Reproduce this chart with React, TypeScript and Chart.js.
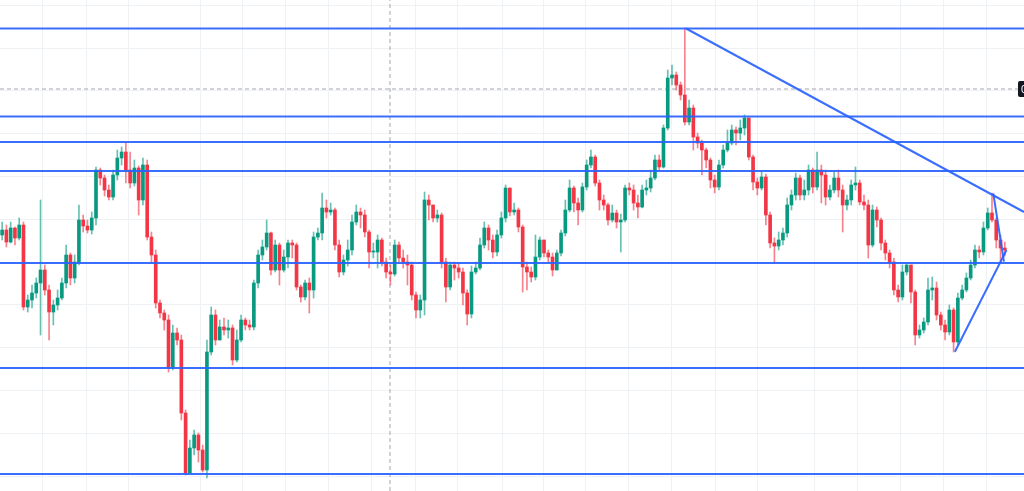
import { useEffect, useRef } from 'react';
import { Chart, registerables } from 'chart.js';

Chart.register(...registerables);

// ---- Data (price units) ----
const firstOpen = 365;

const closes = [
  370, 358, 372, 362, 375, 293, 300, 307, 317, 330,
  310, 288, 295, 302, 317, 345, 322, 338, 380, 374,
  370, 382, 430, 422, 410, 403, 425, 442, 448, 430,
  417, 432, 400, 435, 363, 345, 297, 287, 280, 233,
  267, 260, 187, 127, 152, 165, 150, 130, 248, 285,
  260, 273, 270, 272, 240, 260, 280, 275, 273, 317,
  345, 353, 367, 330, 355, 330, 343, 357, 355, 313,
  303, 317, 310, 363, 367, 392, 388, 390, 355, 328,
  340, 350, 378, 388, 385, 368, 348, 348, 360, 338,
  328, 326, 355, 342, 338, 335, 305, 290, 300, 400,
  395, 382, 385, 338, 313, 335, 332, 328, 307, 286,
  328, 332, 355, 372, 360, 348, 365, 382, 412, 388,
  390, 373, 333, 328, 323, 343, 360, 347, 343, 330,
  347, 367, 390, 412, 397, 390, 413, 435, 443, 417,
  400, 395, 380, 387, 378, 380, 412, 410, 397, 393,
  410, 412, 422, 440, 433, 472, 522, 525, 515, 505,
  478, 492, 463, 457, 450, 440, 420, 413, 435, 450,
  457, 470, 467, 472, 482, 443, 418, 412, 423, 385,
  357, 354, 360, 367, 395, 405, 422, 405, 410, 430,
  413, 430, 425, 403, 410, 422, 410, 395, 400, 415,
  417, 398, 395, 355, 390, 380, 357, 347, 338, 310,
  303, 328, 335, 308, 265, 270, 278, 310, 312, 285,
  275, 268, 290, 258, 302, 310, 322, 335, 350, 348,
  372, 387, 380, 360, 352, 350,
];

const highs = [
  378, 375, 378, 373, 382, 378, 305, 315, 322, 400,
  335, 315, 300, 310, 322, 355, 347, 345, 395, 385,
  380, 388, 433, 432, 425, 415, 430, 450, 453, 457,
  448, 440, 434, 442, 440, 368, 350, 300, 290, 285,
  275, 272, 265, 190, 160, 170, 167, 155, 260, 293,
  290, 280, 282, 280, 275, 270, 285, 282, 280, 320,
  350, 360, 380, 368, 360, 357, 350, 360, 360, 357,
  315, 320, 322, 368, 372, 407, 400, 397, 392, 360,
  345, 360, 385, 395, 392, 390, 370, 357, 365, 362,
  342, 335, 360, 358, 350, 345, 338, 308, 305, 408,
  405, 395, 390, 387, 342, 338, 338, 337, 332, 310,
  334, 338, 362, 378, 375, 365, 370, 388, 415, 412,
  397, 392, 375, 338, 333, 365, 363, 360, 350, 347,
  350, 370, 400, 420, 414, 402, 417, 440, 450, 445,
  420, 405, 397, 395, 390, 386, 415, 417, 415, 405,
  415, 420, 430, 445, 445, 475, 530, 535, 528, 518,
  572, 500, 495, 467, 460, 452, 442, 425, 440, 455,
  470, 475, 473, 480, 485, 480, 445, 422, 428, 426,
  388, 362, 368, 372, 402, 410, 427, 425, 420, 435,
  432, 448, 435, 430, 415, 428, 430, 415, 405, 420,
  433, 420, 405, 400, 395, 393, 382, 360, 350, 342,
  315, 335, 337, 335, 310, 275, 282, 322, 323, 318,
  288, 280, 295, 292, 307, 315, 327, 340, 355, 354,
  378, 392, 407, 382, 365, 358,
];

const lows = [
  360, 353, 357, 355, 360, 290, 288, 292, 302, 265,
  305, 260, 275, 290, 300, 312, 315, 317, 335, 368,
  367, 366, 375, 415, 404, 400, 400, 420, 435, 417,
  412, 414, 385, 395, 360, 338, 292, 282, 270, 228,
  230, 255, 180, 125, 127, 145, 138, 128, 122, 245,
  255, 260, 265, 262, 235, 238, 258, 270, 270, 270,
  312, 340, 350, 325, 328, 315, 328, 332, 342, 310,
  298, 300, 287, 302, 360, 360, 382, 385, 350, 323,
  325, 334, 345, 375, 372, 363, 332, 342, 332, 334,
  322, 315, 324, 338, 332, 315, 300, 282, 282, 285,
  380, 378, 378, 332, 298, 310, 320, 322, 295, 275,
  282, 326, 330, 352, 350, 342, 344, 362, 378, 384,
  385, 368, 308, 310, 318, 320, 340, 343, 338, 324,
  330, 344, 364, 388, 388, 375, 388, 410, 432, 414,
  390, 390, 375, 378, 372, 348, 378, 405, 390, 382,
  392, 405, 408, 420, 430, 432, 470, 515, 510, 500,
  475, 475, 450, 452, 425, 432, 412, 407, 410, 432,
  448, 455, 455, 460, 465, 440, 410, 405, 410, 375,
  352, 337, 350, 355, 363, 390, 400, 400, 400, 405,
  407, 410, 397, 395, 400, 407, 403, 368, 390, 395,
  410, 395, 390, 342, 353, 373, 350, 340, 332, 305,
  298, 300, 325, 297, 255, 262, 267, 275, 300, 280,
  270, 260, 265, 248, 255, 300, 308, 320, 332, 342,
  345, 370, 378, 352, 338, 344,
];

// Horizontal support / resistance levels
const levelPrices = [571.5, 483.5, 458, 429, 337, 232, 126];
// Last price (dashed) and session marker
const lastPriceLevel = 511;
const sessionMarkX = 91.4;
// Trend lines: [x1, y1, x2, y2]
const trendLines = [
  [160.8, 571.5, 240, 388],
  [232.8, 406.7, 235.3, 338.3],
  [223.8, 248.3, 235.9, 350],
];
// Grid positions
const timeGridX = [10, 20.2, 30.1, 46.9, 56.9, 67, 76.9, 87.1, 97.3, 107.2, 117.7, 127.3, 137.3, 147.3, 157.4, 167.6, 177.5, 191, 200.9, 211.1, 221.1, 231.3];
const priceGridY = [594.8, 552, 509.2, 466.4, 423.6, 380.8, 338, 295.2, 252.4, 209.6, 166.8, 124];

const X_MIN = 0;
const X_MAX = 240;
const Y_MIN = 109;
const Y_MAX = 600;

const UP = '#089981';
const DOWN = '#f23645';
const UP_WICK = 'rgba(8,153,129,0.62)';
const DOWN_WICK = 'rgba(242,54,69,0.62)';
const BLUE = 'rgba(41,98,255,0.92)';
const GRID = '#eff2f5';

export default function App() {
  const ref = useRef<HTMLCanvasElement>(null);

  useEffect(() => {
    if (!ref.current) return;
    const opens = closes.map((c, i) => (i === 0 ? firstOpen : closes[i - 1]));
    const isUp = closes.map((c, i) => c >= opens[i]);
    const bodies = closes.map((c, i) => ({ x: i + 0.5, y: [opens[i], c] }));
    const wicks = closes.map((c, i) => ({
      x: i + 0.5,
      y: [Math.min(lows[i], opens[i], c), Math.max(highs[i], opens[i], c)],
    }));

    const lineDatasets: any[] = [];
    levelPrices.forEach((p) => {
      lineDatasets.push({
        type: 'line',
        data: [{ x: X_MIN, y: p }, { x: X_MAX, y: p }],
        borderColor: BLUE,
        borderWidth: 2,
        pointRadius: 0,
        fill: false,
        order: 0,
      });
    });
    trendLines.forEach(([x1, y1, x2, y2]) => {
      lineDatasets.push({
        type: 'line',
        data: [{ x: x1, y: y1 }, { x: x2, y: y2 }],
        borderColor: BLUE,
        borderWidth: 2,
        pointRadius: 0,
        fill: false,
        order: 0,
      });
    });
    lineDatasets.push({
      type: 'line',
      data: [{ x: X_MIN, y: lastPriceLevel }, { x: X_MAX, y: lastPriceLevel }],
      borderColor: '#a3a6ae',
      borderWidth: 1,
      borderDash: [4, 3],
      pointRadius: 0,
      fill: false,
      order: 5,
    });
    lineDatasets.push({
      type: 'line',
      data: [{ x: sessionMarkX, y: Y_MIN }, { x: sessionMarkX, y: Y_MAX }],
      borderColor: '#a3a6ae',
      borderWidth: 1,
      borderDash: [4, 3],
      pointRadius: 0,
      fill: false,
      order: 5,
    });

    const priceLabel = {
      id: 'priceLabel',
      afterDraw(chart: any) {
        const { ctx, scales } = chart;
        const y = scales.y.getPixelForValue(lastPriceLevel);
        const right = chart.chartArea.right;
        ctx.save();
        ctx.fillStyle = '#131722';
        ctx.beginPath();
        ctx.roundRect(right - 6, y - 8, 14, 16, 2);
        ctx.fill();
        ctx.fillStyle = '#ffffff';
        ctx.font = '11px "Liberation Sans", Arial, sans-serif';
        ctx.textBaseline = 'middle';
        ctx.textAlign = 'left';
        ctx.fillText('0', right - 3, y + 0.5);
        ctx.restore();
      },
    };

    const chart = new Chart(ref.current, {
      type: 'bar',
      data: {
        datasets: [
          ...lineDatasets,
          {
            type: 'bar',
            data: bodies as any,
            backgroundColor: isUp.map((u) => (u ? UP : DOWN)),
            barThickness: 3,
            minBarLength: 1,
            grouped: false,
            order: 2,
          } as any,
          {
            type: 'bar',
            data: wicks as any,
            backgroundColor: isUp.map((u) => (u ? UP_WICK : DOWN_WICK)),
            barThickness: 1,
            grouped: false,
            order: 3,
          } as any,
        ],
      },
      options: {
        animation: false,
        responsive: false,
        devicePixelRatio: 1,
        layout: { padding: 0 },
        plugins: { legend: { display: false }, tooltip: { enabled: false } },
        scales: {
          x: {
            type: 'linear',
            min: X_MIN,
            max: X_MAX,
            offset: false,
            grid: { color: GRID, drawTicks: false, offset: false },
            border: { display: false },
            ticks: { display: false },
            afterBuildTicks: (s: any) => {
              s.ticks = timeGridX.map((v) => ({ value: v }));
            },
          },
          y: {
            type: 'linear',
            min: Y_MIN,
            max: Y_MAX,
            grid: { color: GRID, drawTicks: false },
            border: { display: false },
            ticks: { display: false },
            afterBuildTicks: (s: any) => {
              s.ticks = priceGridY.map((v) => ({ value: v }));
            },
          },
        },
      },
      plugins: [priceLabel],
    });
    return () => chart.destroy();
  }, []);

  return (
    <div style={{ position: 'absolute', left: 0, top: 0, width: 1024, height: 491, background: '#ffffff' }}>
      <canvas ref={ref} width={1024} height={491} />
    </div>
  );
}
